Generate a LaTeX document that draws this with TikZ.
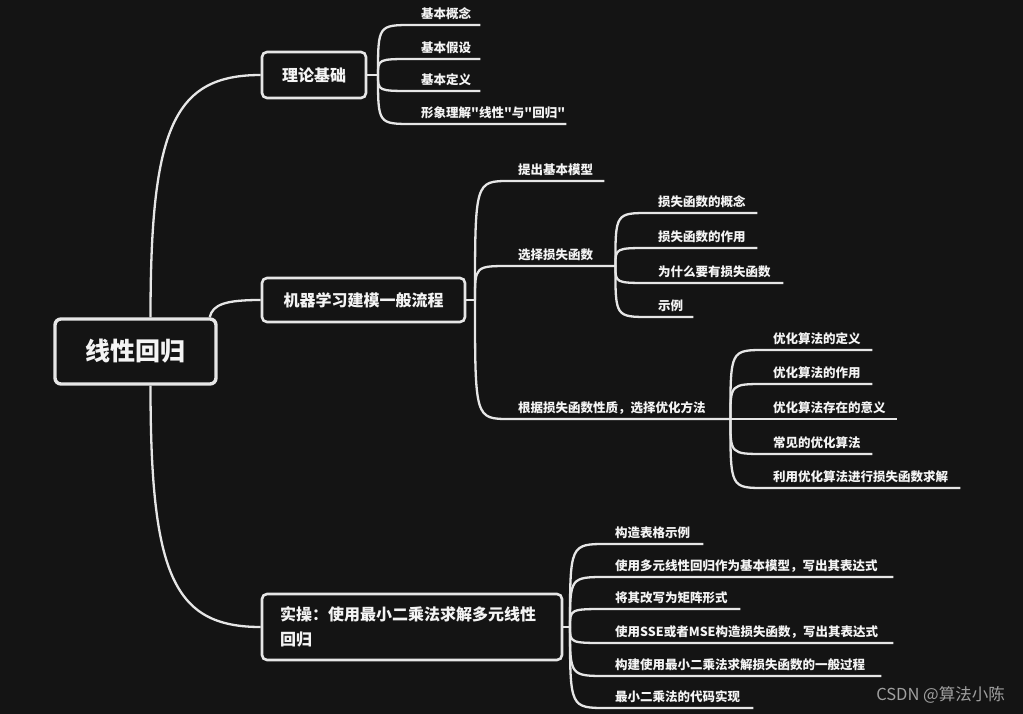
\documentclass[tikz,border=0pt]{standalone}
\usepackage{fontspec}
\setmainfont{Noto Sans CJK SC}[Ligatures=TeXOff]
\usetikzlibrary{calc}
\definecolor{bg}{HTML}{141414}
\definecolor{ln}{HTML}{E6E6E6}
\definecolor{txt}{HTML}{F4F4F4}
\definecolor{wm}{HTML}{A0A0A0}
\tikzset{
  conn/.style={draw=ln, line width=2.3pt},
  topicbox/.style={draw=ln, line width=2.6pt, fill=bg, rounded corners=5pt, text=txt,
    font=\bfseries\fontsize{16}{20}\selectfont, inner sep=0pt},
  rootbox/.style={draw=ln, line width=3.4pt, fill=bg, rounded corners=6pt, text=txt,
    font=\bfseries\fontsize{25}{30}\selectfont, inner sep=0pt},
  item/.style={inner xsep=8pt, inner ysep=0pt, text height=10pt, text depth=6.5pt,
    text=txt, font=\bfseries\fontsize{12.5}{15}\selectfont, align=left, anchor=south west},
  wmark/.style={text=wm, font=\fontsize{16.5}{19}\selectfont, inner sep=0pt}
}
\begin{document}
\begin{tikzpicture}[x=1pt,y=-1pt]
\useasboundingbox[fill=bg] (0,0) rectangle (1023,714);

% main topics
\node[rootbox, minimum width=161pt, minimum height=65pt] (root) at (135.5,351.5) {线性回归};
\node[topicbox, minimum width=104pt, minimum height=46pt] (l1) at (314,75) {理论基础};
\node[topicbox, minimum width=203pt, minimum height=44pt] (l2) at (363.5,300) {机器学习建模一般流程};
\node[topicbox, minimum width=300pt, minimum height=66pt, text width=264pt, align=left,
      font=\bfseries\fontsize{16}{25}\selectfont] (l3) at (412,627) {实操：使用最小二乘法求解多元线性\\回归};

% branch points
\coordinate (t1) at (378,75);
\coordinate (t2) at (475,300);
\coordinate (t3) at (570,627);

% items of 理论基础
\node[item, text width=51pt] (a1) at (413,25) {基本概念};
\node[item, text width=51pt] (a2) at (413,59) {基本假设};
\node[item, text width=51pt] (a3) at (413,91) {基本定义};
\node[item, text width=137pt] (a4) at (413,124) {形象理解"线性"与"回归"};

% items of 机器学习建模一般流程
\node[item, text width=78pt] (b1) at (510,181) {提出基本模型};
\node[item, text width=89pt] (b2) at (510,266) {选择损失函数};
\node[item, text width=204pt] (b3) at (510,419) {根据损失函数性质，选择优化方法};

\node[item, text width=91pt] (c1) at (650,213) {损失函数的概念};
\node[item, text width=91pt] (c2) at (650,248) {损失函数的作用};
\node[item, text width=117pt] (c3) at (650,283) {为什么要有损失函数};
\node[item, text width=27pt] (c4) at (650,317) {示例};

\node[item, text width=91pt] (d1) at (765,350) {优化算法的定义};
\node[item, text width=91pt] (d2) at (765,384) {优化算法的作用};
\node[item, text width=116pt] (d3) at (765,419) {优化算法存在的意义};
\node[item, text width=91pt] (d4) at (765,454) {常见的优化算法};
\node[item, text width=179pt] (d5) at (765,488) {利用优化算法进行损失函数求解};

% items of 实操
\node[item, text width=80pt] (e1) at (607,544) {构造表格示例};
\node[item, text width=270pt] (e2) at (607,577) {使用多元线性回归作为基本模型，写出其表达式};
\node[item, text width=117pt] (e3) at (607,609) {将其改写为矩阵形式};
\node[item, text width=270pt] (e4) at (607,643) {使用SSE或者MSE构造损失函数，写出其表达式};
\node[item, text width=258pt] (e5) at (607,676) {构建使用最小二乘法求解损失函数的一般过程};
\node[item, text width=130pt] (e6) at (607,708) {最小二乘法的代码实现};

% root connectors
\draw[conn] ($(root.north)+(15,0)$) .. controls +(0,-190) and +(-87,0) .. (l1.west);
\draw[conn] ($(root.north east)+(-8,0)$) .. controls +(3,-13) and +(-35,0) .. (l2.west);
\draw[conn] ($(root.south)+(15,0)$) .. controls +(0,190) and +(-87,0) .. (l3.west);

% stubs
\draw[conn] (l1.east) -- (t1);
\draw[conn] (l2.east) -- (t2);
\draw[conn] (l3.east) -- (t3);

% branch connectors
\foreach \n in {a1,a2,a3,a4}
  \draw[conn] (t1) .. controls (t1 |- \n.south west) .. (\n.south west) -- (\n.south east);
\foreach \n in {b1,b2,b3}
  \draw[conn] (t2) .. controls (t2 |- \n.south west) .. (\n.south west) -- (\n.south east);
\foreach \n in {c1,c2,c3,c4}
  \draw[conn] (b2.south east) .. controls (b2.south east |- \n.south west) .. (\n.south west) -- (\n.south east);
\foreach \n in {d1,d2,d3,d4,d5}
  \draw[conn] (b3.south east) .. controls (b3.south east |- \n.south west) .. (\n.south west) -- (\n.south east);
\foreach \n in {e1,e2,e3,e4,e5,e6}
  \draw[conn] (t3) .. controls (t3 |- \n.south west) .. (\n.south west) -- (\n.south east);

% watermark
\node[wmark, anchor=base east] (wm) at (1005,700) {CSDN @算法小陈};
\end{tikzpicture}
\end{document}
